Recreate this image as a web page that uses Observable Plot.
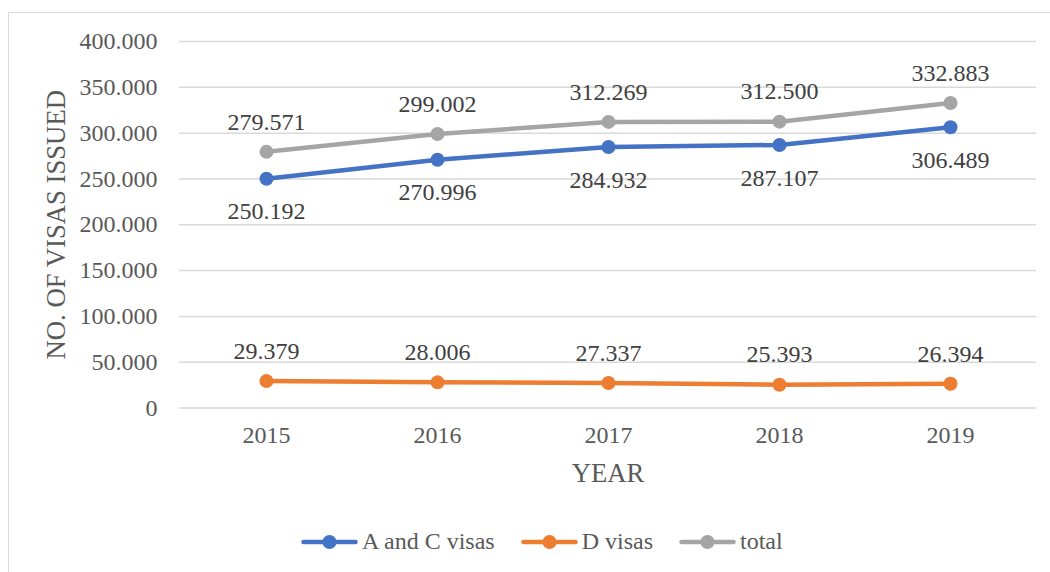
<!DOCTYPE html>
<html>
<head>
<meta charset="utf-8">
<script src="https://cdn.jsdelivr.net/npm/d3@7"></script>
<script src="https://cdn.jsdelivr.net/npm/@observablehq/plot@0.6"></script>
<style>
  html, body { margin: 0; padding: 0; background: #fff; overflow: hidden; }
  #wrap { position: relative; width: 1050px; height: 572px; overflow: hidden; font-family: "Liberation Serif", "Times New Roman", serif; }
  #frame { position: absolute; left: 8px; top: 12px; width: 1100px; height: 600px; border: 1.5px solid #d9d9d9; box-sizing: border-box; }
  #chart { position: absolute; left: 0; top: 0; }
  #legend { position: absolute; left: 301px; top: 528px; display: flex; align-items: center; font-size: 24px; color: #595959; white-space: nowrap; }
  .item { display: flex; align-items: center; margin-right: 26px; }
  .item svg { margin-right: 4px; }
</style>
</head>
<body>
<div id="wrap">
  <div id="frame"></div>
  <div id="chart"></div>
  <div id="legend"></div>
</div>
<script>
const years = [2015, 2016, 2017, 2018, 2019];
const seriesNames = ["A and C visas", "D visas", "total"];
const seriesColors = ["#4472C4", "#ED7D31", "#A5A5A5"];
const acVisas = [250192, 270996, 284932, 287107, 306489];
const dVisas = [29379, 28006, 27337, 25393, 26394];
const totalVisas = [279571, 299002, 312269, 312500, 332883];
const yTicks = [0, 50000, 100000, 150000, 200000, 250000, 300000, 350000, 400000];
const labelBelow = ["A and C visas"];

const valuesBySeries = [acVisas, dVisas, totalVisas];
const rows = seriesNames.flatMap((name, si) =>
  years.map((yr, i) => ({ year: String(yr), series: name, value: valuesBySeries[si][i] }))
);

const fmt = d3.formatLocale({ decimal: ",", thousands: ".", grouping: [3], currency: ["", ""] }).format(",");

const chart = Plot.plot({
  width: 1050,
  height: 500,
  marginTop: 41,
  marginBottom: 92.5,
  marginLeft: 179,
  marginRight: 14,
  style: { fontFamily: "'Liberation Serif', 'Times New Roman', serif", fontSize: "24px", color: "#595959", background: "transparent", overflow: "visible" },
  x: { type: "point", domain: years.map(String), padding: 0.5, label: null },
  y: { domain: [0, 400000], label: null },
  color: { domain: seriesNames, range: seriesColors },
  marks: [
    Plot.gridY(yTicks, { stroke: "#d9d9d9", strokeOpacity: 1, strokeWidth: 1.5 }),
    Plot.axisY(yTicks, { tickSize: 0, tickPadding: 22, tickFormat: fmt, label: null, fill: "#595959" }),
    Plot.axisX({ tickSize: 0, tickPadding: 18, label: null, fill: "#595959" }),
    Plot.text(["YEAR"], { frameAnchor: "bottom", lineAnchor: "middle", textAnchor: "middle", dy: 65, fontSize: 26.7, fill: "#595959" }),
    Plot.text(["NO. OF VISAS ISSUED"], { frameAnchor: "left", lineAnchor: "middle", textAnchor: "middle", dx: -123, rotate: -90, fontSize: 26.7, fill: "#595959" }),
    Plot.line(rows, { x: "year", y: "value", z: "series", stroke: "series", strokeWidth: 4.5, strokeLinecap: "round", strokeLinejoin: "round" }),
    Plot.dot(rows, { x: "year", y: "value", fill: "series", r: 7 }),
    Plot.text(rows.filter(d => !labelBelow.includes(d.series)), { x: "year", y: "value", text: d => fmt(d.value), dy: -30, fill: "#404040" }),
    Plot.text(rows.filter(d => labelBelow.includes(d.series)), { x: "year", y: "value", text: d => fmt(d.value), dy: 33, fill: "#404040" })
  ]
});
document.getElementById("chart").appendChild(chart);

const legend = document.getElementById("legend");
seriesNames.forEach((name, i) => {
  const item = document.createElement("div");
  item.className = "item";
  item.innerHTML = `<svg width="57" height="16"><line x1="2.5" y1="8" x2="54.5" y2="8" stroke="${seriesColors[i]}" stroke-width="4.5" stroke-linecap="round"/><circle cx="28.5" cy="8" r="7" fill="${seriesColors[i]}"/></svg><span>${name}</span>`;
  legend.appendChild(item);
});
</script>
</body>
</html>
